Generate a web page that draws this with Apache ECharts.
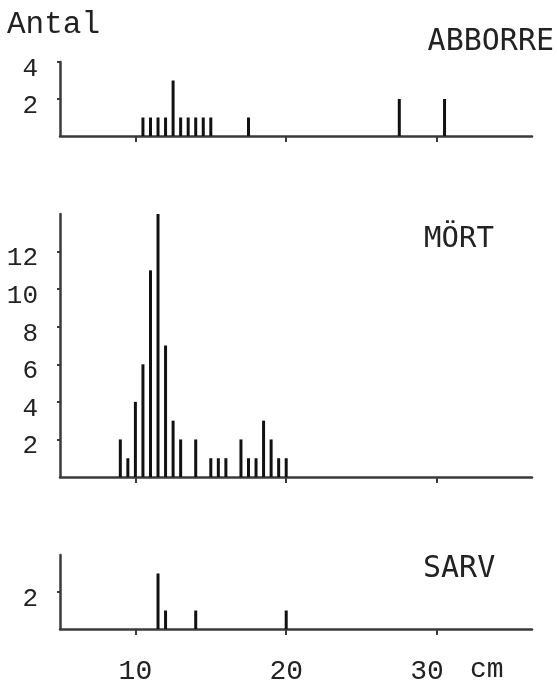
<!DOCTYPE html>
<html>
<head>
<meta charset="utf-8">
<script src="https://cdn.jsdelivr.net/npm/echarts@6/dist/echarts.min.js"></script>
<style>
  html, body { margin: 0; padding: 0; background: #fff; }
  #main { width: 557px; height: 680px; }
</style>
</head>
<body>
<div id="main"></div>
<script>
// length classes (cm) and counts per species
var abborreLen = [10.5, 11, 11.5, 12, 12.5, 13, 13.5, 14, 14.5, 15, 17.5, 27.5, 30.5];
var abborreN = [1, 1, 1, 1, 3, 1, 1, 1, 1, 1, 1, 2, 2];

var mortLen = [9, 9.5, 10, 10.5, 11, 11.5, 12, 12.5, 13, 14, 15, 15.5, 16, 17, 17.5, 18, 18.5, 19, 19.5, 20];
var mortN = [2, 1, 4, 6, 11, 14, 7, 3, 2, 2, 1, 1, 1, 2, 1, 1, 3, 2, 1, 1];

var sarvLen = [11.5, 12, 14, 20];
var sarvN = [3, 1, 1, 1];

var xTicks = [10, 20, 30];
var yTicksAbborre = [2, 4];
var yTicksMort = [2, 4, 6, 8, 10, 12];
var yTicksSarv = [2];

var MONO = "'Liberation Mono', 'DejaVu Sans Mono', monospace";
var SANS_MONO = "'DejaVu Sans Mono', monospace";
var INK = "#222";
var AXIS = "#3a3a3a";

function pairs(xs, ys) {
  return xs.map(function (x, i) {
    return [x, ys[i]];
  });
}

function xAxisFor(idx, showLabels) {
  return {
    type: "value",
    gridIndex: idx,
    min: 5,
    max: 36.3,
    splitLine: { show: false },
    axisLine: { show: true, lineStyle: { color: AXIS, width: 2.5 } },
    axisTick: {
      show: true,
      customValues: xTicks,
      length: 6,
      inside: false,
      lineStyle: { color: AXIS, width: 2 },
    },
    axisLabel: {
      show: showLabels,
      customValues: xTicks,
      margin: 29,
      // the typed "30" sits a little left of its tick
      formatter: function (v) {
        return v === 30 ? "{l|" + v + "}" : "{n|" + v + "}";
      },
      rich: {
        n: { fontFamily: MONO, fontSize: 28, color: INK },
        l: { fontFamily: MONO, fontSize: 28, color: INK, padding: [0, 20, 0, 0] },
      },
    },
  };
}

function yAxisFor(idx, max, ticks) {
  return {
    type: "value",
    gridIndex: idx,
    min: 0,
    max: max,
    splitLine: { show: false },
    axisLine: { show: true, lineStyle: { color: AXIS, width: 2.5 } },
    axisTick: {
      show: true,
      customValues: ticks,
      length: 3,
      lineStyle: { color: AXIS, width: 2 },
    },
    axisLabel: {
      customValues: ticks,
      margin: 22,
      formatter: function (v) {
        return "{n|" + v + "}";
      },
      rich: {
        n: {
          fontFamily: MONO,
          fontSize: 26,
          color: INK,
          padding: [14, 0, 0, 0],
        },
      },
    },
  };
}

function barSeries(idx, xs, ys) {
  return {
    type: "bar",
    xAxisIndex: idx,
    yAxisIndex: idx,
    data: pairs(xs, ys),
    barWidth: 3,
    itemStyle: { color: "#111" },
    silent: true,
  };
}

var chart = echarts.init(document.getElementById("main"));

chart.setOption({
  animation: false,
  backgroundColor: "#fff",
  title: [
    { text: "Antal", left: 7, top: 9, padding: 0,
      textStyle: { fontFamily: MONO, fontSize: 31, fontWeight: "normal", color: INK } },
    { text: "ABBORRE", right: 3, top: 27, padding: 0,
      textStyle: { fontFamily: SANS_MONO, fontSize: 30, fontWeight: "normal", color: INK } },
    { text: "MÖRT", left: 424, top: 225, padding: 0,
      textStyle: { fontFamily: SANS_MONO, fontSize: 29, fontWeight: "normal", color: INK } },
    { text: "SARV", left: 423, top: 554, padding: 0,
      textStyle: { fontFamily: SANS_MONO, fontSize: 30, fontWeight: "normal", color: INK } },
  ],
  graphic: [
    {
      type: "text",
      left: 470,
      top: 656,
      style: { text: "cm", font: "28px " + MONO, fill: INK },
    },
  ],
  grid: [
    { left: 60, width: 472, top: 62, height: 74, outerBoundsMode: "none", containLabel: false },
    { left: 60, width: 472, top: 214, height: 263, outerBoundsMode: "none", containLabel: false },
    { left: 60, width: 472, top: 555, height: 74, outerBoundsMode: "none", containLabel: false },
  ],
  xAxis: [xAxisFor(0, false), xAxisFor(1, false), xAxisFor(2, true)],
  yAxis: [
    yAxisFor(0, 4, yTicksAbborre),
    yAxisFor(1, 14, yTicksMort),
    yAxisFor(2, 4, yTicksSarv),
  ],
  series: [
    barSeries(0, abborreLen, abborreN),
    barSeries(1, mortLen, mortN),
    barSeries(2, sarvLen, sarvN),
  ],
});
</script>
</body>
</html>
